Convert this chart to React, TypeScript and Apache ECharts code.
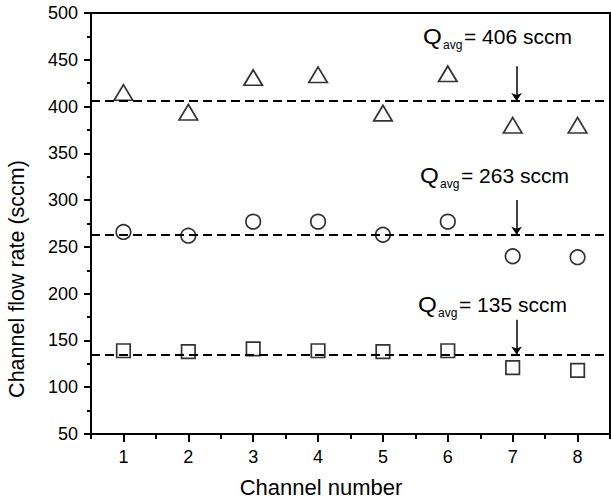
import React, { useEffect, useRef } from "react";
import * as echarts from "echarts";

const channels = ["1", "2", "3", "4", "5", "6", "7", "8"];
const triangleValues = [415, 394, 431, 434, 393, 435, 380, 380];
const circleValues = [266, 262, 277, 277, 263, 277, 240, 239];
const squareValues = [139, 138, 141, 139, 138, 139, 121, 118];
const averages = [406, 263, 135];
const arrowTops = [443, 300, 172];
const arrowChannel = 7.06;
const yTicks = { min: 50, max: 500, interval: 50 };

// annotation layout (pixels): left of "Q", text baseline
const annoLayout = [
  { x: 423, base: 44 },
  { x: 420, base: 183 },
  { x: 418, base: 312 },
];

const FONT = 'Arial, "Liberation Sans", Helvetica, sans-serif';

export default function App() {
  const ref = useRef<HTMLDivElement>(null);
  useEffect(() => {
    if (!ref.current) return;
    const chart = echarts.init(ref.current, null, { renderer: "svg" });

    const avgLine = (v: number) => ({
      yAxis: v,
    });

    const markerStyle = {
      color: "rgba(255,255,255,0)",
      borderColor: "#000",
      borderWidth: 1.7,
    };

    const graphic: any[] = [];
    annoLayout.forEach((a, i) => {
      graphic.push({
        type: "text",
        x: a.x,
        y: a.base - 0.3465 * 22,
        scaleX: 1.1,
        style: { text: "Q", font: `22px ${FONT}`, fill: "#000", verticalAlign: "middle", align: "left" },
      });
      graphic.push({
        type: "text",
        x: a.x + 20,
        y: a.base + 5 - 0.3465 * 12,
        style: { text: "avg", font: `12px ${FONT}`, fill: "#000", verticalAlign: "middle", align: "left" },
      });
      graphic.push({
        type: "text",
        x: a.x + 41,
        y: a.base - 0.3465 * 21,
        style: {
          text: `= ${averages[i]} sccm`,
          font: `21px ${FONT}`,
          fill: "#000",
          verticalAlign: "middle",
          align: "left",
        },
      });
    });
    graphic.push({
      type: "text",
      x: 16.5,
      y: 279,
      rotation: Math.PI / 2,
      style: {
        text: "Channel flow rate (sccm)",
        font: `21.5px ${FONT}`,
        fill: "#000",
        align: "center",
        verticalAlign: "middle",
      },
    });
    graphic.push({
      type: "text",
      x: 321,
      y: 495 - 0.3465 * 22,
      style: {
        text: "Channel number",
        font: `22px ${FONT}`,
        fill: "#000",
        align: "center",
        verticalAlign: "middle",
      },
    });

    chart.setOption({
      animation: false,
      backgroundColor: "#fff",
      grid: {
        left: 91,
        right: 1,
        top: 13,
        bottom: 69,
        show: true,
        borderColor: "#000",
        borderWidth: 2,
        containLabel: false,
      },
      xAxis: [
        {
          type: "category",
          data: channels,
          boundaryGap: true,
          axisLine: { show: true, lineStyle: { color: "#000", width: 2 } },
          axisTick: { show: true, alignWithLabel: true, length: 8, lineStyle: { color: "#000", width: 2 } },
          axisLabel: { color: "#000", fontSize: 18, fontFamily: FONT, margin: 14 },
          splitLine: { show: false },
        },
        {
          type: "category",
          data: channels,
          boundaryGap: true,
          position: "bottom",
          axisLine: { show: false },
          axisTick: { show: true, alignWithLabel: false, length: 5, lineStyle: { color: "#000", width: 2 } },
          axisLabel: { show: false },
          splitLine: { show: false },
        },
        {
          type: "value",
          min: 0.5,
          max: 8.5,
          show: false,
        },
      ],
      yAxis: {
        type: "value",
        min: yTicks.min,
        max: yTicks.max,
        interval: yTicks.interval,
        axisLine: { show: true, lineStyle: { color: "#000", width: 2 } },
        axisTick: { show: true, length: 7, lineStyle: { color: "#000", width: 2 } },
        minorTick: { show: true, splitNumber: 2, length: 4, lineStyle: { color: "#000", width: 2 } },
        axisLabel: { color: "#000", fontSize: 18, fontFamily: FONT, margin: 13 },
        splitLine: { show: false },
        minorSplitLine: { show: false },
      },
      series: [
        {
          type: "scatter",
          xAxisIndex: 0,
          data: triangleValues,
          symbol: "triangle",
          symbolSize: [18.5, 15.5],
          itemStyle: markerStyle,
          z: 3,
          markLine: {
            silent: true,
            symbol: "none",
            label: { show: false },
            lineStyle: { color: "#000", width: 2, type: [9, 5] },
            data: [avgLine(averages[0])],
          },
        },
        {
          type: "scatter",
          xAxisIndex: 0,
          data: circleValues,
          symbol: "circle",
          symbolSize: 14.5,
          itemStyle: markerStyle,
          z: 3,
          markLine: {
            silent: true,
            symbol: "none",
            label: { show: false },
            lineStyle: { color: "#000", width: 2, type: [9, 5] },
            data: [avgLine(averages[1])],
          },
        },
        {
          type: "scatter",
          xAxisIndex: 0,
          data: squareValues,
          symbol: "rect",
          symbolSize: 13.5,
          itemStyle: markerStyle,
          z: 3,
          markLine: {
            silent: true,
            symbol: "none",
            label: { show: false },
            lineStyle: { color: "#000", width: 2, type: [9, 5] },
            data: [avgLine(averages[2])],
          },
        },
        {
          type: "lines",
          coordinateSystem: "cartesian2d",
          xAxisIndex: 2,
          yAxisIndex: 0,
          symbol: ["none", "arrow"],
          symbolSize: 8,
          lineStyle: { color: "#000", width: 1.5, opacity: 1 },
          data: averages.map((v, i) => ({
            coords: [
              [arrowChannel, arrowTops[i]],
              [arrowChannel, v],
            ],
          })),
        },
      ],
      graphic,
    });
    return () => chart.dispose();
  }, []);
  return (
    <div
      ref={ref}
      style={{ position: "fixed", left: 0, top: 0, width: 611, height: 503 }}
    />
  );
}
